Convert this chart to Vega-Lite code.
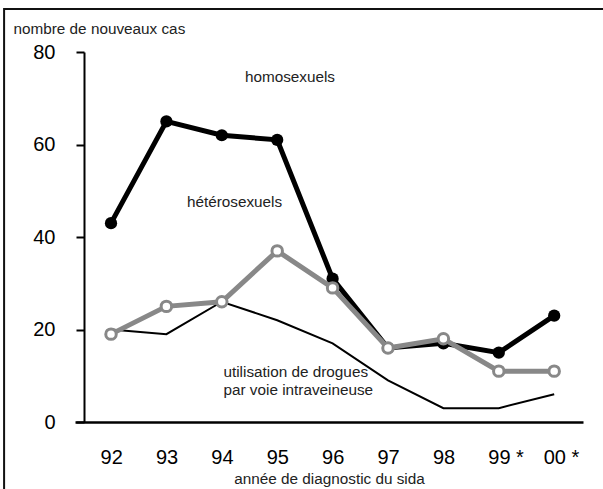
{
  "$schema": "https://vega.github.io/schema/vega-lite/v6.json",
  "autosize": {"type": "none"},
  "padding": {"left": 75, "top": 52, "right": 20, "bottom": 67},
  "width": 508,
  "height": 370,
  "background": "white",
  "config": {"view": {"stroke": null}},
  "datasets": {
    "cas": [
      {"annee": 1992, "groupe": "homosexuels", "cas": 43},
      {"annee": 1993, "groupe": "homosexuels", "cas": 65},
      {"annee": 1994, "groupe": "homosexuels", "cas": 62},
      {"annee": 1995, "groupe": "homosexuels", "cas": 61},
      {"annee": 1996, "groupe": "homosexuels", "cas": 31},
      {"annee": 1997, "groupe": "homosexuels", "cas": 16},
      {"annee": 1998, "groupe": "homosexuels", "cas": 17},
      {"annee": 1999, "groupe": "homosexuels", "cas": 15},
      {"annee": 2000, "groupe": "homosexuels", "cas": 23},
      {"annee": 1992, "groupe": "hétérosexuels", "cas": 19},
      {"annee": 1993, "groupe": "hétérosexuels", "cas": 25},
      {"annee": 1994, "groupe": "hétérosexuels", "cas": 26},
      {"annee": 1995, "groupe": "hétérosexuels", "cas": 37},
      {"annee": 1996, "groupe": "hétérosexuels", "cas": 29},
      {"annee": 1997, "groupe": "hétérosexuels", "cas": 16},
      {"annee": 1998, "groupe": "hétérosexuels", "cas": 18},
      {"annee": 1999, "groupe": "hétérosexuels", "cas": 11},
      {"annee": 2000, "groupe": "hétérosexuels", "cas": 11},
      {"annee": 1992, "groupe": "drogues", "cas": 20},
      {"annee": 1993, "groupe": "drogues", "cas": 19},
      {"annee": 1994, "groupe": "drogues", "cas": 26},
      {"annee": 1995, "groupe": "drogues", "cas": 22},
      {"annee": 1996, "groupe": "drogues", "cas": 17},
      {"annee": 1997, "groupe": "drogues", "cas": 9},
      {"annee": 1998, "groupe": "drogues", "cas": 3},
      {"annee": 1999, "groupe": "drogues", "cas": 3},
      {"annee": 2000, "groupe": "drogues", "cas": 6}
    ],
    "etiquettes": [
      {"annee": 1995.23, "cas": 73.5, "texte": "homosexuels", "pos": "center"},
      {"annee": 1994.23, "cas": 46.5, "texte": "hétérosexuels", "pos": "center"},
      {"annee": 1994.03, "cas": 9.7, "texte": "utilisation de drogues", "pos": "left"},
      {"annee": 1994.03, "cas": 5.8, "texte": "par voie intraveineuse", "pos": "left"}
    ],
    "cadre": [
      {"x1": 1990.07, "x2": 2001.6, "y1": 89.3, "y2": -20}
    ]
  },
  "encoding": {
    "x": {
      "field": "annee",
      "type": "quantitative",
      "scale": {"domain": [1991.35, 2000.52], "nice": false, "zero": false},
      "axis": {
        "values": [1992, 1993, 1994, 1995, 1996, 1997, 1998, 1999, 2000],
        "labelExpr": "datum.value == 1999 ? '99 *' : datum.value == 2000 ? '00 *' : slice(toString(datum.value), 2)",
        "grid": false,
        "ticks": false,
        "tickSize": 0,
        "domainColor": "black",
        "domainWidth": 2.5,
        "labelFont": "Liberation Sans",
        "labelFontSize": 20,
        "labelColor": "black",
        "labelAlign": "left",
        "labelBaseline": "top",
        "labelOffset": -11,
        "labelPadding": 25,
        "labelOverlap": false,
        "labelFlush": false,
        "labelBound": false,
        "title": "année de diagnostic du sida",
        "titleFont": "Liberation Sans",
        "titleFontSize": 15.3,
        "titleFontWeight": "normal",
        "titleColor": "#222",
        "titleBaseline": "alphabetic",
        "titleAlign": "center",
        "titleX": 254,
        "titleY": 61
      }
    },
    "y": {
      "field": "cas",
      "type": "quantitative",
      "scale": {"domain": [0, 80], "nice": false, "zero": false},
      "axis": {
        "values": [0, 20, 40, 60, 80],
        "grid": false,
        "offset": -9,
        "tickSize": 8,
        "tickWidth": 2,
        "tickColor": "black",
        "domainColor": "black",
        "domainWidth": 2,
        "labelFont": "Liberation Sans",
        "labelFontSize": 20,
        "labelColor": "black",
        "labelPadding": 21,
        "labelBaseline": "middle",
        "title": "nombre de nouveaux cas",
        "titleFont": "Liberation Sans",
        "titleFontSize": 15.3,
        "titleFontWeight": "normal",
        "titleColor": "#222",
        "titleAngle": 0,
        "titleAlign": "left",
        "titleBaseline": "alphabetic",
        "titleX": -71,
        "titleY": -19
      }
    }
  },
  "layer": [
    {
      "data": {"name": "cas"},
      "transform": [{"filter": "datum.groupe == 'drogues'"}],
      "mark": {"type": "line", "color": "black", "strokeWidth": 2},
      "encoding": {}
    },
    {
      "data": {"name": "cas"},
      "transform": [{"filter": "datum.groupe == 'homosexuels'"}],
      "mark": {"type": "line", "color": "black", "strokeWidth": 5},
      "encoding": {}
    },
    {
      "data": {"name": "cas"},
      "transform": [{"filter": "datum.groupe == 'homosexuels'"}],
      "mark": {"type": "circle", "color": "black", "opacity": 1, "size": 150},
      "encoding": {}
    },
    {
      "data": {"name": "cas"},
      "transform": [{"filter": "datum.groupe == 'hétérosexuels'"}],
      "mark": {"type": "line", "color": "#888888", "strokeWidth": 5},
      "encoding": {}
    },
    {
      "data": {"name": "cas"},
      "transform": [{"filter": "datum.groupe == 'hétérosexuels'"}],
      "mark": {"type": "point", "shape": "circle", "filled": false, "fill": "white", "fillOpacity": 1, "stroke": "#888888", "strokeWidth": 3, "opacity": 1, "size": 110},
      "encoding": {}
    },
    {
      "data": {"name": "etiquettes"},
      "transform": [{"filter": "datum.pos == 'center'"}],
      "mark": {"type": "text", "font": "Liberation Sans", "fontSize": 15.3, "color": "#222", "baseline": "alphabetic", "align": "center"},
      "encoding": {"text": {"field": "texte"}}
    },
    {
      "data": {"name": "etiquettes"},
      "transform": [{"filter": "datum.pos == 'left'"}],
      "mark": {"type": "text", "font": "Liberation Sans", "fontSize": 15.3, "color": "#222", "baseline": "alphabetic", "align": "left"},
      "encoding": {"text": {"field": "texte"}}
    },
    {
      "data": {"name": "cadre"},
      "mark": {"type": "rect", "filled": false, "stroke": "#111", "strokeWidth": 2, "clip": false},
      "encoding": {
        "x": {"field": "x1", "type": "quantitative"},
        "x2": {"field": "x2"},
        "y": {"field": "y1", "type": "quantitative"},
        "y2": {"field": "y2"}
      }
    }
  ]
}
